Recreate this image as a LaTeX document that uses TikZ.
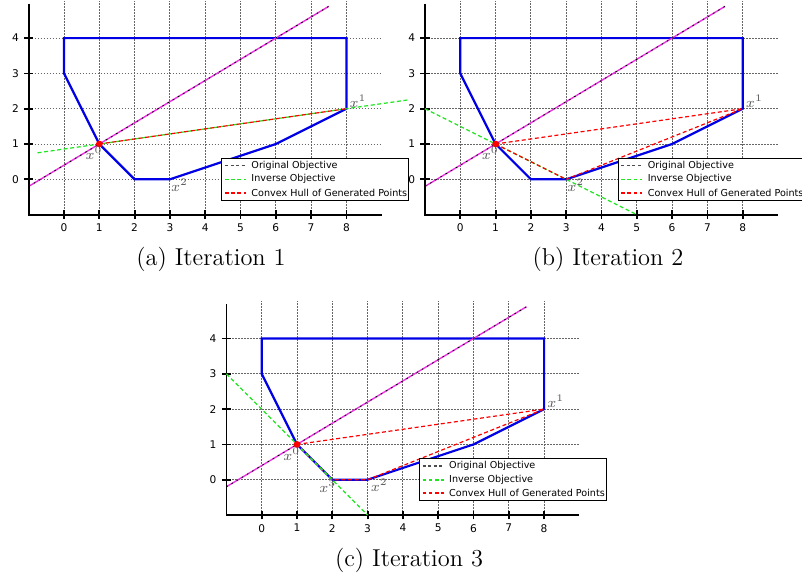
\documentclass[tikz,border=0pt]{standalone}
\usepackage{fontspec}
\newfontfamily\djv{DejaVu Sans}
\definecolor{invg}{RGB}{30,230,30}
\definecolor{feasb}{RGB}{0,0,230}
\definecolor{objm}{RGB}{235,50,225}
\tikzset{
  gridline/.style={black!60, line width=0.45pt, dash pattern=on 0.8pt off 0.7pt},
  feas/.style={feasb, line width=1.1pt, line join=miter},
  objmag/.style={objm, line width=0.7pt},
  objblk/.style={black, line width=0.4pt, dash pattern=on 0.8pt off 2.2pt},
  inv/.style={invg, line width=0.6pt, dash pattern=on 2pt off 1.3pt},
  hull/.style={red, line width=0.6pt, dash pattern=on 2pt off 1.3pt},
  spine/.style={black, line width=0.9pt},
  ticklab/.style={font=\djv\fontsize{5.3}{6}\selectfont, inner sep=0pt},
  leglab/.style={font=\djv\fontsize{4.8}{5.5}\selectfont, inner sep=0pt, anchor=west},
  ptlab/.style={font=\fontsize{7.5}{8.5}\selectfont, text=black!65, inner sep=0pt, anchor=base west},
  caplab/.style={font=\fontsize{12.2}{14}\selectfont, inner sep=0pt, anchor=base},
  legbox/.style={draw=black, line width=0.5pt, fill=white},
  legorig/.style={black!70, line width=0.7pt, dash pattern=on 1.5pt off 1.3pt},
  leginv/.style={invg, line width=0.8pt, dash pattern=on 1.8pt off 1.3pt},
  leghull/.style={red, line width=0.8pt, dash pattern=on 1.8pt off 1.3pt},
}
\newcommand\plotcommon[1]{%
  \foreach \i in {0,...,8} \draw[gridline] (\i,-1) -- (\i,5.05);
  \foreach \j in {0,...,4} \draw[gridline] (-1,\j) -- (9,\j);
  \draw[feas] (0,4) -- (8,4) -- (8,2) -- (6,1) -- (3,0) -- (2,0) -- (1,1) -- (0,3) -- cycle;
  \coordinate (#1-o1) at (-1,-0.2);
  \coordinate (#1-o2) at (7.5,4.9);
  \draw[objmag] (#1-o1) -- (#1-o2);
  \draw[objblk] (#1-o1) -- (#1-o2);
  \draw[spine] (-1,4.98) -- (-1,-1) -- (9,-1);
  \foreach \i in {0,...,8} {\draw[spine] (\i,-1.12) -- (\i,-0.88);
    \node[ticklab, anchor=north] (#1-xt\i) at (\i,-1.25) {\i};}
  \foreach \j in {0,...,4} {\draw[spine] (-1.13,\j) -- (-0.87,\j);
    \node[ticklab, anchor=east] (#1-yt\j) at (-1.27,\j) {\j};}
  \coordinate (#1-p0) at (1,1);
  \coordinate (#1-p1) at (8,2);
  \coordinate (#1-p2) at (3,0);
  \coordinate (#1-p3) at (2,0);
}
\newcommand\plotlegend[1]{%
  \draw[legbox] (4.47,-0.6) rectangle (9.77,0.6);
  \node[leglab] (#1-l1) at (5.3,0.385) {Original Objective};
  \node[leglab] (#1-l2) at (5.3,0) {Inverse Objective};
  \node[leglab] (#1-l3) at (5.3,-0.38) {Convex Hull of Generated Points};
  \draw[legorig] (4.56,0.385) -- (5.15,0.385);
  \draw[leginv] (4.56,0) -- (5.15,0);
  \draw[leghull] (4.56,-0.38) -- (5.15,-0.38);
}
\begin{document}
\begin{tikzpicture}[x=0.5pt,y=-0.5pt]
\useasboundingbox (0,0) rectangle (802,575);
% (a)
\begin{scope}[shift={(64,179.3)}, x=17.65pt, y=17.65pt]
  \plotcommon{a}
  \coordinate (a-g1) at (-0.75,0.75);
  \coordinate (a-g2) at (9.75,2.25);
  \draw[inv] (a-g1) -- (a-g2);
  \draw[hull] (a-p0) -- (a-p1);
  \fill[red] (a-p0) circle[radius=1.7pt];
  \node[ptlab] (a-x0) at (0.6,0.55) {$x^0$};
  \node[ptlab] (a-x1) at (8.08,2.04) {$x^1$};
  \node[ptlab] (a-x2) at (3.02,-0.35) {$x^2$};
  \plotlegend{a}
\end{scope}
% (b)
\begin{scope}[shift={(460.3,179.3)}, x=17.65pt, y=17.65pt]
  \plotcommon{b}
  \coordinate (b-g1) at (-1,2);
  \coordinate (b-g2) at (5,-1);
  \draw[inv] (b-g1) -- (b-g2);
  \draw[hull] (b-p0) -- (b-p1) -- (b-p2) -- cycle;
  \fill[red] (b-p0) circle[radius=1.7pt];
  \node[ptlab] (b-x0) at (0.6,0.55) {$x^0$};
  \node[ptlab] (b-x1) at (8.08,2.04) {$x^1$};
  \node[ptlab] (b-x2) at (3.02,-0.35) {$x^2$};
  \plotlegend{b}
\end{scope}
% (c)
\begin{scope}[shift={(261.7,479.7)}, x=17.65pt, y=17.65pt]
  \plotcommon{c}
  \coordinate (c-g1) at (-1,3);
  \coordinate (c-g2) at (3,-1);
  \draw[hull] (c-p0) -- (c-p1) -- (c-p2) -- (c-p3) -- cycle;
  \draw[inv] (c-g1) -- (c-g2);
  \fill[red] (c-p0) circle[radius=1.7pt];
  \node[ptlab] (c-x0) at (0.6,0.55) {$x^0$};
  \node[ptlab] (c-x1) at (8.08,2.04) {$x^1$};
  \node[ptlab] (c-x2) at (3.08,-0.33) {$x^2$};
  \node[ptlab] (c-x3) at (1.62,-0.35) {$x^3$};
  \plotlegend{c}
\end{scope}
\node[caplab] (capa) at (211,265) {(a) Iteration 1};
\node[caplab] (capb) at (608,265) {(b) Iteration 2};
\node[caplab] (capc) at (409,566) {(c) Iteration 3};
\end{tikzpicture}
\end{document}
